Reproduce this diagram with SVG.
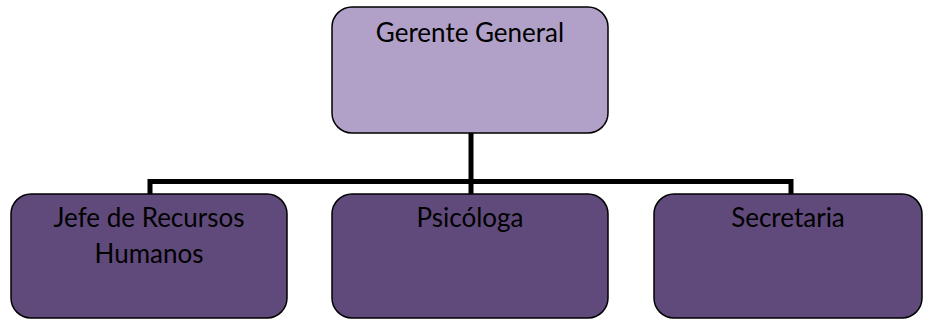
<svg xmlns="http://www.w3.org/2000/svg" width="926" height="320" viewBox="0 0 926 320">
<style>
.box{stroke:#000;stroke-width:1.5}
.top{fill:#b1a0c7}
.sub{fill:#604a7b}
.conn{fill:none;stroke:#000;stroke-width:5}
text{font-family:Lato,"Open Sans",sans-serif;font-size:26px;fill:#000;text-anchor:middle}
</style>
<rect width="926" height="320" fill="#fff"/>
<g id="connectors">
<path class="conn" d="M471 133 V194"/>
<path class="conn" d="M150 194 V181.5 H791 V194"/>
</g>
<g id="gerente">
<rect class="box top" x="332" y="7" width="276" height="126" rx="20"/>
<text x="470" y="42">Gerente General</text>
</g>
<g id="jefe">
<rect class="box sub" x="11" y="194" width="276" height="124" rx="20"/>
<text x="149" y="227">Jefe de Recursos</text>
<text x="149" y="263">Humanos</text>
</g>
<g id="psicologa">
<rect class="box sub" x="332" y="194" width="276" height="124" rx="20"/>
<text x="470" y="227">Psicóloga</text>
</g>
<g id="secretaria">
<rect class="box sub" x="654" y="194" width="268" height="124" rx="20"/>
<text x="788" y="227">Secretaria</text>
</g>
</svg>
